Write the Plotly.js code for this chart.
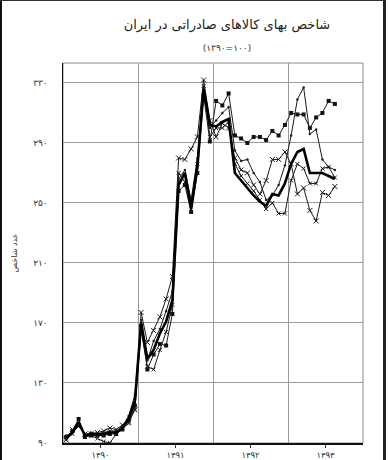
<!DOCTYPE html>
<html>
<head>
<meta charset="utf-8">
<script src="https://cdn.plot.ly/plotly-3.0.1.min.js"></script>
<style>
  html, body { margin: 0; padding: 0; background: #fff; }
  #wrap { position: relative; width: 388px; height: 460px; }
  #chart { position: absolute; left: 0; top: 0; width: 388px; height: 460px; }
  #frame { position: absolute; left: 0; top: 0; width: 386px; height: 460px; box-sizing: border-box;
           border-left: 2px solid #111; border-top: 1px solid #333; border-right: 3px solid #222; pointer-events: none; }
</style>
</head>
<body>
<div id="wrap"><div id="chart"></div><div id="frame"></div></div>
<script>
// Periods (Persian calendar, year/month)
const periods = [
  '1390/01','1390/02','1390/03','1390/04','1390/05','1390/06','1390/07','1390/08','1390/09','1390/10','1390/11','1390/12',
  '1391/01','1391/02','1391/03','1391/04','1391/05','1391/06','1391/07','1391/08','1391/09','1391/10','1391/11','1391/12',
  '1392/01','1392/02','1392/03','1392/04','1392/05','1392/06','1392/07','1392/08','1392/09','1392/10','1392/11','1392/12',
  '1393/01','1393/02','1393/03','1393/04','1393/05','1393/06','1393/07','1393/08'
];

// Series values
const seriesThick = [93,97,104,95,96,96,96,97,97,100,106,118,170,146,152,163,171,185,262,270,246,274,326,302,301,304,306,270,265,260,255,251,248,256,255,263,276,284,286,270,270,270,268,266];
const seriesSquares = [94,98,106,94,95,95,95,96,96,99,105,115,168,139,149,156,155,176,258,262,244,270,322,291,318,315,323,295,293,290,294,294,292,298,295,302,310,309,309,300,307,310,318,316];
const seriesCross = [92,99,101,96,96,97,98,100,99,102,104,112,177,157,165,174,186,201,280,279,286,294,332,305,294,303,300,280,272,270,262,256,265,279,279,284,276,256,260,245,238,257,255,261];
const seriesDots = [95,97,103,95,97,96,97,98,98,101,108,122,172,145,158,166,178,191,266,272,252,280,324,300,305,310,314,285,278,279,270,264,252,255,262,275,295,319,327,296,299,279,274,272];
const seriesTri = [93,96,102,96,95,93,91,90,96,100,103,113,165,141,139,152,164,182,270,264,250,276,328,294,300,300,304,276,268,263,258,252,246,250,243,243,265,276,273,263,263,273,274,267];

// Axis labels
const yTickVals = [90,130,170,210,250,290,330];
const yTickText = ['۹۰','۱۳۰','۱۷۰','۲۱۰','۲۵۰','۲۹۰','۳۳۰'];
const years = [1390,1391,1392,1393];
const yearText = ['۱۳۹۰','۱۳۹۱','۱۳۹۲','۱۳۹۳'];

const titleText = 'شاخص بهای کالاهای صادراتی در ایران';
const subtitleText = '(۱۳۹۰=۱۰۰)';
const yTitle = 'عدد شاخص';

// convert periods to month index from start of 1390
const xs = periods.map(p => { const [y, m] = p.split('/').map(Number); return (y - 1390) * 12 + (m - 1); });
const yearCenters = years.map(y => (y - 1390) * 12 + 5.5);

const font = 'DejaVu Sans, Noto Sans, sans-serif';
const thin = {color: '#1a1a1a', width: 1};

const traces = [
  {x: xs, y: seriesSquares, type: 'scatter', mode: 'lines+markers', line: thin,
   marker: {symbol: 'square', size: 4, color: '#111'}},
  {x: xs, y: seriesCross, type: 'scatter', mode: 'lines+markers', line: thin,
   marker: {symbol: 'x-thin-open', size: 5, line: {width: 1, color: '#222'}}},
  {x: xs, y: seriesDots, type: 'scatter', mode: 'lines+markers', line: thin,
   marker: {symbol: 'circle', size: 2.5, color: '#222'}},
  {x: xs, y: seriesTri, type: 'scatter', mode: 'lines+markers', line: thin,
   marker: {symbol: 'x-thin-open', size: 4, line: {width: 1, color: '#333'}}},
  {x: xs, y: seriesThick, type: 'scatter', mode: 'lines', line: {color: '#000', width: 2.6}}
];

const layout = {
  width: 388, height: 460,
  margin: {l: 63, r: 25, t: 63, b: 17},
  paper_bgcolor: '#fff', plot_bgcolor: '#fff',
  showlegend: false,
  font: {family: font, color: '#222', size: 10},
  title: {
    text: titleText,
    font: {family: font, size: 13, color: '#222'},
    x: 0.585, xanchor: 'center', y: 0.946, yanchor: 'middle',
    subtitle: {text: subtitleText, font: {family: font, size: 9, color: '#333'}}
  },
  xaxis: {
    range: [-0.5, 47.5], fixedrange: true,
    tickmode: 'array', tickvals: yearCenters, ticktext: yearText,
    ticks: 'outside', ticklen: 3, tickcolor: '#333',
    tickfont: {family: font, size: 8.5, color: '#333'},
    showgrid: false, zeroline: false,
    showline: true, linecolor: '#111', linewidth: 1.5,
    minor: {tickmode: 'linear', tick0: -0.5, dtick: 12, showgrid: true, gridcolor: '#9a9a9a', gridwidth: 1, ticks: ''}
  },
  yaxis: {
    range: [90, 343.3], fixedrange: true,
    tickmode: 'array', tickvals: yTickVals, ticktext: yTickText,
    ticks: '', ticklabelstandoff: 12,
    tickfont: {family: font, size: 9, color: '#333'},
    showgrid: true, gridcolor: '#9a9a9a', gridwidth: 1, zeroline: false,
    showline: true, linecolor: '#111', linewidth: 1.5,
    title: {text: yTitle, font: {family: font, size: 8, color: '#333'}, standoff: 14}
  },
  shapes: [
    {type: 'rect', xref: 'paper', yref: 'paper', x0: 0, x1: 1, y0: 0, y1: 1,
     line: {color: '#8a8a8a', width: 1}, layer: 'below'}
  ]
};

Plotly.newPlot('chart', traces, layout, {staticPlot: true, displayModeBar: false});
</script>
</body>
</html>
